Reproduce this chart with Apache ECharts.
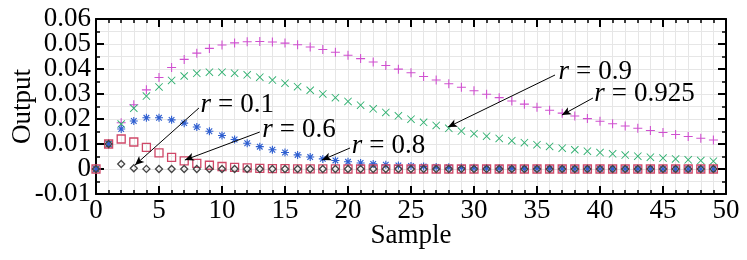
<!DOCTYPE html>
<html><head><meta charset="utf-8">
<script src="https://cdn.jsdelivr.net/npm/echarts@6/dist/echarts.min.js"></script>
<style>html,body{margin:0;padding:0;background:#fff}#c{width:747px;height:260px}</style>
</head><body><div id="c"></div>
<script>
const samples = [0,1,2,3,4,5,6,7,8,9,10,11,12,13,14,15,16,17,18,19,20,21,22,23,24,25,26,27,28,29,30,31,32,33,34,35,36,37,38,39,40,41,42,43,44,45,46,47,48,49];
const r0925 = [0,0.01,0.0185,0.02567,0.03166,0.0366,0.04063,0.04385,0.04635,0.04824,0.04958,0.05044,0.0509,0.05101,0.05081,0.05036,0.04969,0.04883,0.04783,0.0467,0.04547,0.04416,0.0428,0.04139,0.03995,0.03849,0.03703,0.03557,0.03412,0.03269,0.03128,0.0299,0.02855,0.02723,0.02595,0.02471,0.02351,0.02235,0.02123,0.02016,0.01912,0.01813,0.01718,0.01627,0.0154,0.01457,0.01378,0.01302,0.0123,0.01161];
const r09 = [0,0.01,0.018,0.0243,0.02916,0.03281,0.03543,0.0372,0.03826,0.03874,0.03874,0.03835,0.03766,0.03672,0.03559,0.03432,0.03294,0.0315,0.03002,0.02852,0.02702,0.02553,0.02407,0.02265,0.02127,0.01994,0.01867,0.01744,0.01628,0.01518,0.01413,0.01314,0.01221,0.01133,0.01051,0.00973,0.00901,0.00834,0.0077,0.00712,0.00657,0.00606,0.00559,0.00515,0.00474,0.00437,0.00401,0.00369,0.00339,0.00312];
const r08 = [0,0.01,0.016,0.0192,0.02048,0.02048,0.01966,0.01835,0.01678,0.0151,0.01342,0.01181,0.01031,0.00893,0.0077,0.0066,0.00563,0.00479,0.00405,0.00342,0.00288,0.00242,0.00203,0.0017,0.00142,0.00118,0.00098,0.00082,0.00068,0.00056,0.00046,0.00038,0.00032,0.00026,0.00022,0.00018,0.00015,0.00012,0.0001,0.00008,0.00007,0.00005,0.00004,0.00004,0.00003,0.00002,0.00002,0.00002,0.00001,0.00001];
const r06 = [0,0.01,0.012,0.0108,0.00864,0.00648,0.00467,0.00327,0.00224,0.00151,0.00101,0.00067,0.00044,0.00028,0.00018,0.00012,0.00008,0.00005,0.00003,0.00002,0.00001,0,0,0,0,0,0,0,0,0,0,0,0,0,0,0,0,0,0,0,0,0,0,0,0,0,0,0,0,0];
const r01 = [0,0.01,0.002,0.0003,0.00004,0,0,0,0,0,0,0,0,0,0,0,0,0,0,0,0,0,0,0,0,0,0,0,0,0,0,0,0,0,0,0,0,0,0,0,0,0,0,0,0,0,0,0,0,0];
const xTickLabels = ['0','5','10','15','20','25','30','35','40','45','50'];
const yTickLabels = ['-0.01','0','0.01','0.02','0.03','0.04','0.05','0.06'];
const annotationTexts = ['0.1','0.6','0.8','0.9','0.925'];

const FONT = 'Liberation Serif';
const FS = 27;
const pair = arr => samples.map((n,i)=>[n, arr[i]]);
const PLUS = 'path://M4.4 0L5.6 0L5.6 10L4.4 10Z M0 4.4L10 4.4L10 5.6L0 5.6Z';
const CROSS = 'path://M0 0.8L0.8 0L10 9.2L9.2 10Z M9.2 0L10 0.8L0.8 10L0 9.2Z';
const STAR = 'path://M4.3 0L5.7 0L5.7 10L4.3 10Z M0 4.3L10 4.3L10 5.7L0 5.7Z M1 2L2 1L9 8L8 9Z M8 1L9 2L2 9L1 8Z';

const gridLine = {show:true, lineStyle:{color:'#e6e6e6', width:1}};
const axLine = {show:true, onZero:false, lineStyle:{color:'#000', width:2}};
const noShow = {show:false};
function xAx(pos, showLabel){
  return {type:'value', position:pos, min:0, max:50, interval:5,
    axisLine:axLine,
    axisTick:{show:true, inside:true, length:8, lineStyle:{color:'#000', width:2}},
    minorTick:{show:true, splitNumber:5, length:4, lineStyle:{color:'#000', width:1.5}},
    splitLine: showLabel ? gridLine : noShow,
    minorSplitLine: showLabel ? gridLine : noShow,
    axisLabel:{show:showLabel, showMinLabel:true, showMaxLabel:true, hideOverlap:false,
      margin:3, color:'#000', fontFamily:FONT, fontSize:FS,
      formatter:v=>xTickLabels[Math.round(v/5)]},
    name: showLabel ? 'Sample' : '', nameLocation:'middle', nameGap:28, nameMoveOverlap:false,
    nameTextStyle:{color:'#000', fontFamily:FONT, fontSize:FS}
  };
}
function yAx(pos, showTicks, labelParity, name){
  return {type:'value', position:pos, offset:0, min:-0.01, max:0.06, interval:0.01,
    axisLine: showTicks ? axLine : noShow,
    axisTick: showTicks ? {show:true, inside:true, length:8, lineStyle:{color:'#000', width:2}} : noShow,
    minorTick: showTicks ? {show:true, splitNumber:2, length:4, lineStyle:{color:'#000', width:1.5}} : noShow,
    splitLine: name ? gridLine : noShow,
    minorSplitLine: name ? gridLine : noShow,
    axisLabel:{show:labelParity !== null, showMinLabel:true, showMaxLabel:true, hideOverlap:false,
      margin:5, color:'#000', fontFamily:FONT, fontSize:FS,
      formatter:v=>{const i = Math.round((v+0.01)/0.01); return (i % 2 === labelParity) ? yTickLabels[i] : '';}},
    name: name || '', nameLocation:'middle', nameGap:60, nameMoveOverlap:false,
    nameTextStyle:{color:'#000', fontFamily:FONT, fontSize:FS}
  };
}
function sc(name, arr, symbol, size, color, hollow){
  return {name, type:'scatter', xAxisIndex:0, yAxisIndex:0, data:pair(arr),
    symbol, symbolSize:size,
    itemStyle: hollow ? {color:'rgba(255,255,255,0)', borderColor:color, borderWidth:1.3, opacity:1} : {color, opacity:1},
    emphasis:{disabled:true}, silent:true};
}
const lab = t => '{i|r}{e|=}{n|' + t + '}';
const rich = {i:{fontFamily:FONT, fontStyle:'italic', fontSize:FS, color:'#000'},
              e:{fontFamily:FONT, fontSize:FS, color:'#000', padding:[0,7,0,7]},
              n:{fontFamily:FONT, fontSize:FS, color:'#000'}};
const arrows = [
  [[8.17,0.0244],[3.1,0.0016]],
  [[13.0,0.0148],[7.06,0.0036]],
  [[20.16,0.0084],[17.94,0.0036]],
  [[36.43,0.0376],[27.94,0.0168]],
  [[39.44,0.0284],[36.98,0.0216]]
];
const textPos = [[8.3,0.0256],[13.2,0.0156],[20.3,0.0092],[36.7,0.0388],[39.55,0.0300]];

const annot = {type:'scatter', data:[], xAxisIndex:0, yAxisIndex:0, silent:true,
  markLine:{silent:true, symbol:['none','arrow'], symbolSize:[6,9], animation:false,
    lineStyle:{color:'#000', width:1, type:'solid'}, label:{show:false},
    data: arrows.map(a=>[{coord:a[0]},{coord:a[1]}])},
  markPoint:{silent:true, symbol:'rect', symbolSize:0, animation:false,
    label:{show:true, position:'right', distance:0, rich},
    data: textPos.map((p,i)=>({coord:p, label:{formatter:lab(annotationTexts[i])}}))}
};

const chart = echarts.init(document.getElementById('c'), null, {renderer:'canvas'});
chart.setOption({
  animation:false,
  grid:{left:96, right:21, top:19, bottom:66, containLabel:false, outerBoundsMode:'none'},
  xAxis:[xAx('bottom', true), xAx('top', false)],
  yAxis:[yAx('left', true, 0, 'Output'), yAx('right', true, null, null), yAx('left', false, 1, null)],
  series:[
    sc('r=0.925', r0925, PLUS, 9, '#d050d0', false),
    sc('r=0.9', r09, CROSS, 8, '#30b070', false),
    sc('r=0.8', r08, STAR, 8, '#2f5fd0', false),
    sc('r=0.6', r06, 'rect', 8, '#d04868', true),
    sc('r=0.1', r01, 'diamond', 7, '#444444', true),
    annot
  ]
});
</script></body></html>
